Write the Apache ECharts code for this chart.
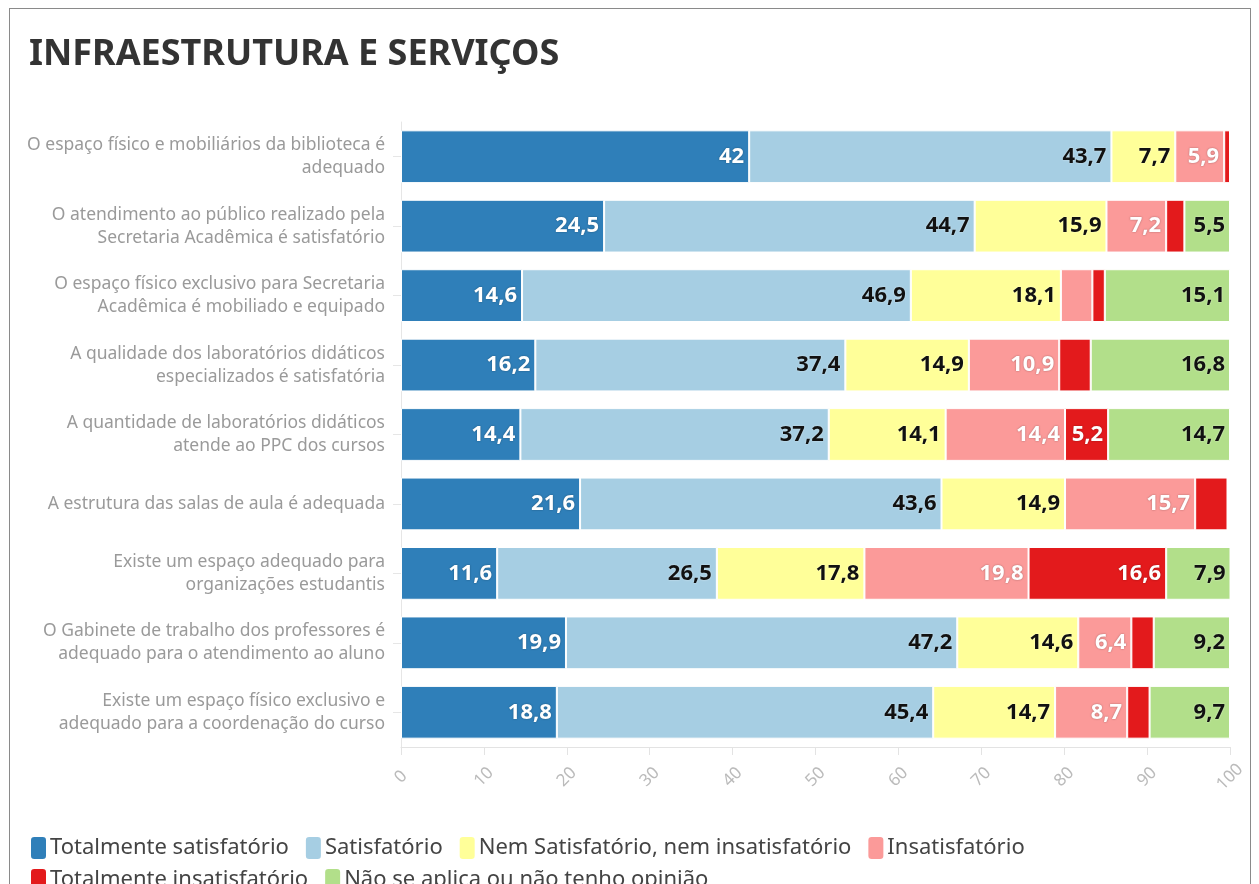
<!DOCTYPE html>
<html>
<head>
<meta charset="utf-8">
<script src="https://cdn.jsdelivr.net/npm/echarts@6/dist/echarts.min.js"></script>
<style>
  html, body { margin: 0; padding: 0; background: #fff; }
  .frame {
    position: absolute; left: 9px; top: 8px; width: 1242px; height: 900px;
    border: 1px solid #8a8a8a; box-sizing: border-box;
  }
  #chart { position: absolute; left: 0; top: 0; width: 1259px; height: 884px; }
</style>
</head>
<body>
<div class="frame"></div>
<div id="chart"></div>
<script>
// perguntas (eixo vertical)
const categories = [
  'O espaço físico e mobiliários da biblioteca é\nadequado',
  'O atendimento ao público realizado pela\nSecretaria Acadêmica é satisfatório',
  'O espaço físico exclusivo para Secretaria\nAcadêmica é mobiliado e equipado',
  'A qualidade dos laboratórios didáticos\nespecializados é satisfatória',
  'A quantidade de laboratórios didáticos\natende ao PPC dos cursos',
  'A estrutura das salas de aula é adequada',
  'Existe um espaço adequado para\norganizações estudantis',
  'O Gabinete de trabalho dos professores é\nadequado para o atendimento ao aluno',
  'Existe um espaço físico exclusivo e\nadequado para a coordenação do curso'
]

const seriesNames = [
  'Totalmente satisfatório',
  'Satisfatório',
  'Nem Satisfatório, nem insatisfatório',
  'Insatisfatório',
  'Totalmente insatisfatório',
  'Não se aplica ou não tenho opinião'
]

// valores em % (os sem rótulo foram estimados pelo tamanho da barra)
const totalmenteSatisfatorio = [42, 24.5, 14.6, 16.2, 14.4, 21.6, 11.6, 19.9, 18.8]
const satisfatorio = [43.7, 44.7, 46.9, 37.4, 37.2, 43.6, 26.5, 47.2, 45.4]
const nemSatisfatorio = [7.7, 15.9, 18.1, 14.9, 14.1, 14.9, 17.8, 14.6, 14.7]
const insatisfatorio = [5.9, 7.2, 3.8, 10.9, 14.4, 15.7, 19.8, 6.4, 8.7]
const totalmenteInsatisfatorio = [0.7, 2.2, 1.5, 3.8, 5.2, 3.9, 16.6, 2.7, 2.7]
const naoSeAplica = [0, 5.5, 15.1, 16.8, 14.7, 0, 7.9, 9.2, 9.7]

const xTicks = [0, 10, 20, 30, 40, 50, 60, 70, 80, 90, 100]

const colors = ['#2f7fb9', '#a6cee3', '#ffff99', '#fb9a99', '#e31a1c', '#b2df8a']
const labelColors = ['#fff', '#111', '#111', '#fff', '#fff', '#111']
const values = [totalmenteSatisfatorio, satisfatorio, nemSatisfatorio, insatisfatorio, totalmenteInsatisfatorio, naoSeAplica]

const chart = echarts.init(document.getElementById('chart'))

const series = seriesNames.map((name, i) => ({
  name,
  type: 'bar',
  stack: 'total',
  barCategoryGap: '24%',
  data: values[i],
  itemStyle: { color: colors[i], borderColor: '#fff', borderWidth: 1 },
  label: {
    show: true,
    position: 'insideRight',
    distance: 5,
    color: labelColors[i],
    fontFamily: 'Noto Sans',
    fontWeight: 'bold',
    fontSize: 22,
    textShadowColor: labelColors[i] === '#fff' ? 'rgba(0,0,0,0.35)' : 'rgba(255,255,255,0.6)',
    textShadowBlur: 2,
    formatter: p => p.value >= 5 ? String(p.value).replace('.', ',') : ''
  }
}))

// legenda em duas linhas (duas legendas para controlar o espaçamento)
const legendBase = {
  left: 24,
  icon: 'roundRect',
  itemWidth: 17,
  itemHeight: 24,
  itemGap: 15,
  textStyle: { fontFamily: 'Noto Sans', fontSize: 22, color: '#444', padding: [0, 0, 0, -2] }
}

const option = {
  animation: false,
  title: {
    text: 'INFRAESTRUTURA E SERVIÇOS',
    left: 24,
    top: 32,
    textStyle: { fontFamily: 'Noto Sans', fontWeight: 'bold', fontSize: 36, color: '#333' }
  },
  legend: [
    { ...legendBase, top: 830, data: seriesNames.slice(0, 4) },
    { ...legendBase, top: 862, data: seriesNames.slice(4) }
  ],
  grid: { left: 401, right: 29, top: 122, height: 625 },
  xAxis: {
    type: 'value',
    min: 0,
    max: 100,
    interval: 10,
    splitLine: { show: false },
    axisLine: { show: true, lineStyle: { color: '#e3e3e3' } },
    axisTick: { show: true, length: 8, lineStyle: { color: '#e3e3e3' } },
    axisLabel: {
      rotate: 45,
      margin: 30,
      align: 'center',
      verticalAlign: 'middle',
      color: '#bbb',
      fontFamily: 'Noto Sans',
      fontSize: 17,
      formatter: v => xTicks.includes(v) ? String(v) : ''
    }
  },
  yAxis: {
    type: 'category',
    inverse: true,
    data: categories,
    axisLine: { show: true, lineStyle: { color: '#e6e6e6' } },
    axisTick: { show: true, alignWithLabel: true, length: 8, lineStyle: { color: '#e6e6e6' } },
    axisLabel: {
      margin: 16,
      color: '#9a9a9a',
      fontFamily: 'Noto Sans',
      fontSize: 17.5,
      lineHeight: 23,
      align: 'right'
    }
  },
  series
}

chart.setOption(option)
</script>
</body>
</html>
